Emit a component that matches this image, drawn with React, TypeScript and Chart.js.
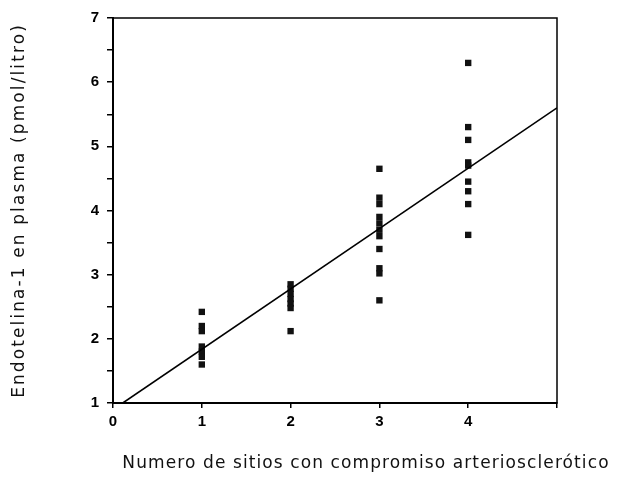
import React, { useEffect, useRef } from "react";
import { Chart, registerables } from "chart.js";

Chart.register(...registerables);

// Number of sites with arteriosclerotic involvement
const siteCounts = [1, 2, 3, 4];
// Plasma endothelin-1 (pmol/litro) per group
const group1 = [2.42, 2.2, 2.12, 1.88, 1.8, 1.72, 1.6];
const group2 = [2.85, 2.78, 2.7, 2.62, 2.55, 2.48, 2.12];
const group3 = [4.65, 4.2, 4.1, 3.9, 3.8, 3.7, 3.6, 3.4, 3.1, 3.02, 2.6];
const group4 = [6.3, 5.3, 5.1, 4.75, 4.7, 4.45, 4.3, 4.1, 3.62];
// Regression line end points
const fitX = [0.11, 5];
const fitY = [1, 5.6];

const xTitle = "Numero de sitios con compromiso arteriosclerótico";
const yTitle = "Endotelina-1 en plasma (pmol/litro)";

const groups = [group1, group2, group3, group4];

export default function App() {
  const ref = useRef<HTMLCanvasElement | null>(null);

  useEffect(() => {
    if (!ref.current) return;
    const points = groups.flatMap((vals, i) =>
      vals.map((v) => ({ x: siteCounts[i], y: v }))
    );
    const line = fitX.map((x, i) => ({ x, y: fitY[i] }));

    const framePlugin = {
      id: "frameAndTitles",
      afterDraw(chart: any) {
        const { ctx, chartArea } = chart;
        ctx.save();
        ctx.strokeStyle = "#000";
        ctx.lineWidth = 1.5;
        ctx.strokeRect(
          chartArea.left,
          chartArea.top,
          chartArea.right - chartArea.left,
          chartArea.bottom - chartArea.top
        );
        ctx.fillStyle = "#111";
        ctx.font = '17px "DejaVu Sans"';
        ctx.textAlign = "center";
        ctx.textBaseline = "middle";
        (ctx as any).letterSpacing = "1.1px";
        ctx.fillText(xTitle, 366, 464);
        ctx.translate(20, (chartArea.top + chartArea.bottom) / 2);
        ctx.rotate(-Math.PI / 2);
        (ctx as any).letterSpacing = "2.1px";
        ctx.fillText(yTitle, 0, 0);
        ctx.restore();
      },
    };

    const chart = new Chart(ref.current, {
      type: "scatter",
      data: {
        datasets: [
          {
            type: "line",
            data: line,
            borderColor: "#000",
            borderWidth: 1.6,
            pointRadius: 0,
            fill: false,
          } as any,
          {
            data: points,
            pointStyle: "rect",
            pointRadius: 4.5,
            backgroundColor: "#111",
            borderColor: "#111",
            borderWidth: 0,
          },
        ],
      },
      options: {
        animation: false,
        responsive: false,
        layout: { padding: { top: 18, right: 64, left: 0, bottom: 0 } },
        plugins: {
          legend: { display: false },
          tooltip: { enabled: false },
        },
        scales: {
          x: {
            type: "linear",
            min: 0,
            max: 5,
            afterFit: (s: any) => {
              s.height = 74;
            },
            ticks: {
              stepSize: 1,
              color: "#000",
              padding: 5,
              font: { family: "Liberation Sans", size: 15, weight: "bold" },
              callback: (v: any) => (Number(v) < 5 ? String(v) : ""),
            },
            grid: {
              drawOnChartArea: false,
              drawTicks: true,
              tickLength: 5,
              color: "#000",
              lineWidth: 1.5,
            },
            border: { display: true, color: "#000", width: 2 },
          },
          y: {
            type: "linear",
            min: 1,
            max: 7,
            afterFit: (s: any) => {
              s.width = 113;
            },
            ticks: {
              stepSize: 0.5,
              color: "#000",
              padding: 8,
              font: { family: "Liberation Sans", size: 15, weight: "bold" },
              callback: (v: any) =>
                Number.isInteger(Number(v)) ? String(v) : "",
            },
            grid: {
              drawOnChartArea: false,
              drawTicks: true,
              tickLength: 6,
              color: "#000",
              lineWidth: 1.5,
            },
            border: { display: true, color: "#000", width: 2 },
          },
        },
      },
      plugins: [framePlugin],
    });
    return () => chart.destroy();
  }, []);

  return (
    <div style={{ position: "fixed", left: 0, top: 0, width: 621, height: 477, background: "#fff" }}>
      <canvas ref={ref} width={621} height={477} />
    </div>
  );
}
